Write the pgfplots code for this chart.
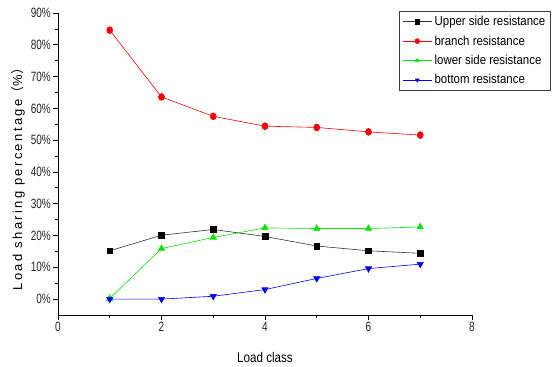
\documentclass[border=0pt]{standalone}
\usepackage{pgfplots}
\pgfplotsset{compat=1.18}
\usepackage{fontspec}
\setmainfont{Liberation Sans}
\newfontfamily\tickfont[FakeStretch=0.74]{Liberation Sans}
\newfontfamily\legfont[FakeStretch=0.88]{Liberation Sans}
\newfontfamily\xlabfont[FakeStretch=0.83]{Liberation Sans}
\newfontfamily\ylabfont[LetterSpace=18]{Liberation Sans}
\newfontfamily\cjk{Noto Sans CJK SC}
\definecolor{cgreen}{RGB}{0,230,0}
\definecolor{cblue}{RGB}{0,0,255}
\definecolor{cred}{RGB}{255,0,0}
\begin{document}
\begin{tikzpicture}
\path[use as bounding box] (0,0) rectangle (552bp,367bp);
\begin{axis}[
  at={(58bp,52bp)}, anchor=south west,
  scale only axis, width=414bp, height=302bp,
  xmin=0, xmax=8, ymin=-5, ymax=90,
  axis lines*=left,
  axis line style={line width=0.8pt},
  xtick={0,2,4,6,8},
  ytick={0,10,20,30,40,50,60,70,80,90},
  yticklabels={0\%,10\%,20\%,30\%,40\%,50\%,60\%,70\%,80\%,90\%},
  minor x tick num=1, minor y tick num=1,
  tick align=outside,
  major tick length=5bp, minor tick length=3bp,
  tick style={line width=0.7pt, black},
  /pgf/number format/assume math mode=true,
  ticklabel style={font=\tickfont\fontsize{13.5bp}{15bp}\selectfont, color=black!85},
  yticklabel style={inner sep=1bp, xshift=-1bp},
  xticklabel style={inner sep=1bp, yshift=-1bp},
  xlabel={\xlabfont\fontsize{14bp}{16bp}\selectfont Load class},
  xlabel style={at={(axis description cs:0.5,-0.0)}, anchor=center, yshift=-42bp},
  ylabel={\ylabfont\fontsize{13bp}{15bp}\selectfont Load sharing percentage{\cjk （}\%{\cjk ）}},
  ylabel style={at={(axis description cs:-0.097,0.46)}, anchor=center, rotate=0},
  legend style={at={(1.19,1.007)}, anchor=north east, draw=black!75, line width=0.8pt,
     font=\legfont\fontsize{13bp}{15bp}\selectfont, cells={anchor=west}, row sep=4.5bp,
     inner xsep=3bp, inner ysep=3bp},
  legend image code/.code={\draw[mark repeat=2,mark phase=2,#1,mark size=2.2bp] plot coordinates {(0cm,0cm) (0.52cm,0cm) (1.05cm,0cm)};},
  clip=false
]
\addplot[black!80, line width=0.6pt, mark=square*, mark size=2.8bp, mark options={black, solid}] coordinates {
(1,15.2) (2,20.1) (3,21.9) (4,19.7) (5,16.7) (6,15.2) (7,14.4)};
\addlegendentry{Upper side resistance}
\addplot[cred, line width=0.6pt, mark=*, mark size=3bp, mark options={cred, yscale=1.15}] coordinates {
(1,84.6) (2,63.6) (3,57.5) (4,54.4) (5,54.0) (6,52.6) (7,51.6)};
\addlegendentry{branch resistance}
\addplot[cgreen, line width=0.6pt, mark=triangle*, mark size=3.6bp, mark options={cgreen}] coordinates {
(1,0.2) (2,15.9) (3,19.4) (4,22.4) (5,22.2) (6,22.2) (7,22.7)};
\addlegendentry{lower side resistance}
\addplot[cblue, line width=0.6pt, mark=triangle*, mark size=3.6bp, mark options={cblue, rotate=180}] coordinates {
(1,0) (2,0) (3,0.9) (4,3.0) (5,6.5) (6,9.6) (7,11.0)};
\addlegendentry{bottom resistance}
\end{axis}
\end{tikzpicture}
\end{document}
